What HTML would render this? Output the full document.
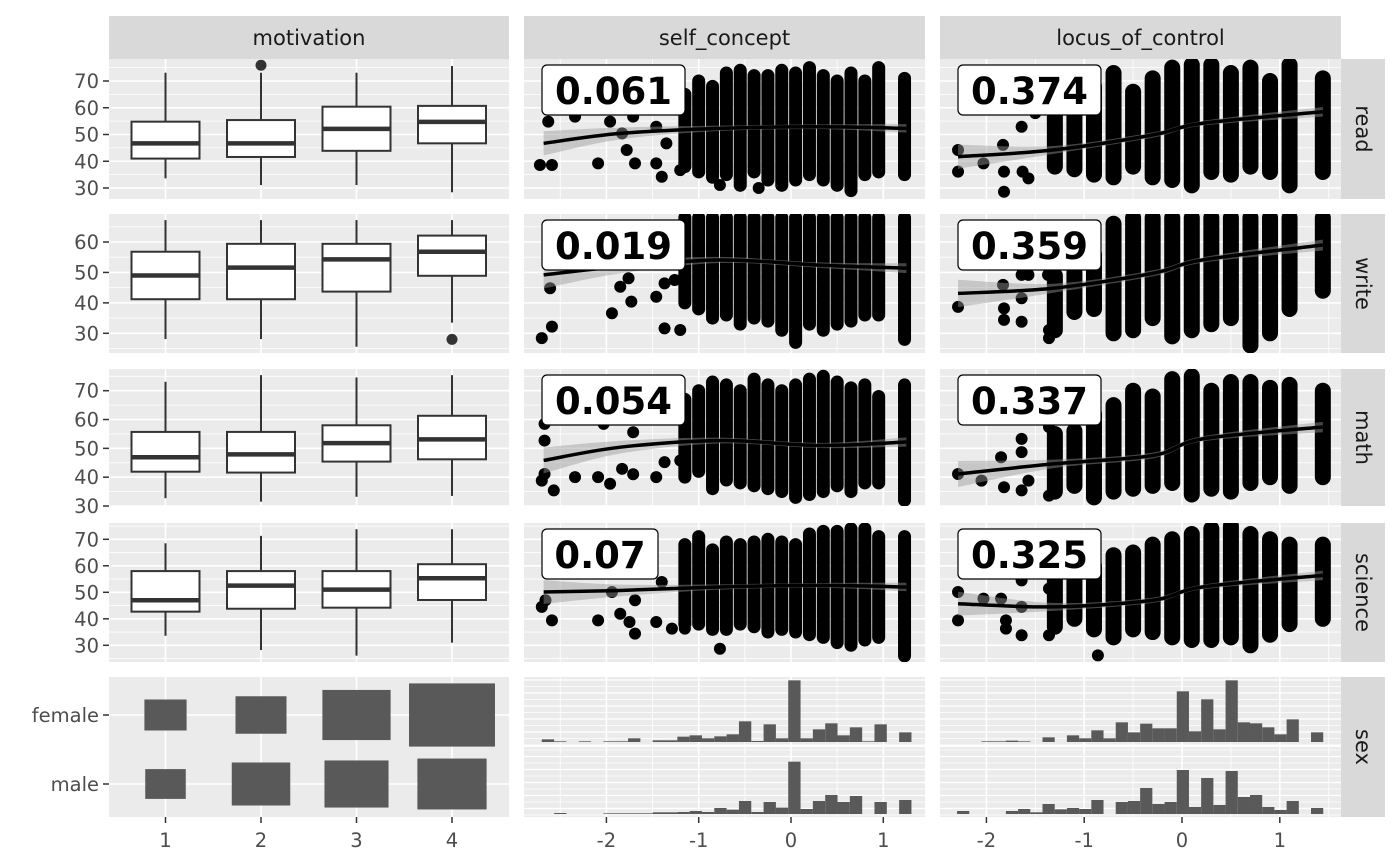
<!DOCTYPE html>
<html><head><meta charset="utf-8">
<style>
html,body{margin:0;padding:0;background:#fff;}
svg{display:block;font-family:"DejaVu Sans","Liberation Sans",sans-serif;}
</style></head>
<body>
<svg id="chart" width="1400" height="866" viewBox="0 0 1400 866" xmlns="http://www.w3.org/2000/svg"></svg>
<script>
// ---------- data ----------
const rowVars = ['read','write','math','science'];
const colVars = ['motivation','self_concept','locus_of_control'];
const corrSelf = ['0.061','0.019','0.054','0.07'];
const corrLocus = ['0.374','0.359','0.337','0.325'];
const boxRead = [[33.6,41,46.7,54.8,73.1],[31.1,41.6,46.7,55.4,73.1],[31.1,43.9,52.1,60.4,73.1],[28.4,46.7,54.7,60.7,75.6]];
const boxWrite = [[28.1,41.2,49,56.8,67.2],[28.1,41.2,51.6,59.4,67.2],[25.6,43.7,54.3,59.4,67.2],[33.5,48.9,56.8,62.1,67.2]];
const boxMath = [[32.7,41.9,46.9,55.7,73.1],[31.5,41.6,47.9,55.7,75.4],[33.2,45.4,51.8,58,74.6],[33.5,46.2,53.1,61.3,75.4]];
const boxScience = [[33.6,42.7,47,58,68.5],[28.2,43.8,52.5,58,71.3],[26.1,44.2,51,58,73.8],[31,47.1,55.3,60.6,73.8]];
const outlierRead = [[2,75.9]];
const outlierWrite = [[4,28]];
const femaleCounts = [13,19,34,54];
const maleCounts = [12,25,30,35];
const histSelfStart = -2.70, histSelfWidth = 0.1335;
const histSelfFemale = [8,2,0,2,0,2,2,11,0,5,5,16,20,11,17,23,62,3,53,11,185,11,38,56,20,44,2,53,0,29];
const histSelfMale = [0,3,0,0,0,2,2,2,2,5,5,6,9,6,18,13,39,6,36,19,157,15,39,57,36,54,0,36,0,42];
const histLocusStart = -2.30, histLocusWidth = 0.1248;
const histLocusFemale = [0,0,2,2,4,2,0,14,0,20,11,35,11,59,29,55,41,41,152,32,128,38,185,59,56,44,23,68,0,29];
const histLocusMale = [9,0,0,0,9,15,5,30,14,18,15,42,0,36,39,78,30,36,132,21,108,27,129,51,57,21,12,39,0,18];
const selfStackX = [-1.15,-1.0,-0.85,-0.7,-0.55,-0.4,-0.25,-0.1,0.05,0.2,0.35,0.5,0.65,0.8,0.95,1.23];
const selfReadLo = [38,36,34,35,31,36,33,31,33,35,33,31,29,35,36,35];
const selfReadHi = [65,70,68,73,74,72,72,74,73,75,72,70,73,70,75,71];
const selfWriteLo = [40,38,35,36,33,35,34,31,27,33,31,33,34,36,36,28];
const selfWriteHi = [68,68,68,68,68,68,68,68,68,68,68,68,68,68,68,68];
const selfMathLo = [40,42,36,39,38,37,36,35,33,34,35,37,35,38,38,32];
const selfMathHi = [67,70,73,72,70,74,72,70,72,74,75,73,71,72,68,72];
const selfSciLo = [38,38,36,36,38,37,35,36,35,34,33,31,30,32,33,26];
const selfSciHi = [68,71,66,69,68,69,70,69,68,72,73,73,74,74,71,71];
const selfReadPtsX = [-2.63,-2.72,-2.59,-2.34,-2.09,-1.96,-1.83,-1.78,-1.71,-1.69,-1.46,-1.46,-1.40,-1.35,-1.2,-0.77,-0.35];
const selfReadPtsY = [54.8,38.6,38.6,56.7,39.2,54.8,50.4,44.2,56.7,39.2,52.9,39.2,34.2,46.7,36.7,31.1,30];
const selfWritePtsX = [-2.61,-2.70,-2.59,-1.94,-1.85,-1.76,-1.73,-1.46,-1.37,-1.2,-1.37,-1.26];
const selfWritePtsY = [44.8,28.4,32.2,36.6,45.3,48.1,40.4,42.0,31.6,31.1,46.4,47.5];
const selfMathPtsX = [-2.67,-2.67,-2.67,-2.70,-2.57,-2.34,-2.09,-1.96,-1.83,-1.71,-1.71,-1.46,-1.37,-1.2,-2.03];
const selfMathPtsY = [58.5,52.7,41.1,38.8,35.4,40,40,37.7,42.9,41,55.6,40,45.2,45.8,58.5];
const selfSciPtsX = [-2.70,-2.59,-2.66,-2.09,-1.85,-1.75,-1.69,-1.69,-1.94,-1.40,-1.46,-1.29,-1.15,-0.77];
const selfSciPtsY = [44.5,39.4,47,39.4,41.9,38.8,34.4,47,50.1,53.9,38.8,36.3,36.3,28.7];
const locusStackX = [-1.3,-1.1,-0.9,-0.7,-0.5,-0.3,-0.1,0.1,0.3,0.5,0.7,0.9,1.1,1.44];
const locusReadLo = [38,37,35,34,38,34,33,31,36,35,38,36,31,36];
const locusReadHi = [63,62,68,73,66,71,75,76,76,73,75,70,76,71];
const locusWriteLo = [31,37,38,30,31,35,29,31,33,35,26,30,38,44];
const locusWriteHi = [49,50,56,66,68,68,68,68,68,68,68,68,68,68];
const locusMathLo = [35,37,33,35,36,37,38,34,36,35,38,40,37,40];
const locusMathHi = [55,56,62,65,70,68,74,75,70,73,73,71,72,70];
const locusSciLo = [37,40,36,33,36,35,33,32,32,33,30,34,38,40];
const locusSciHi = [57,58,60,64,65,68,70,72,74,75,72,70,68,68];
const locusReadPtsX = [-2.29,-2.29,-2.03,-1.83,-1.82,-1.82,-1.64,-1.63,-1.57,-1.5];
const locusReadPtsY = [44.2,36.1,39.2,46.1,28.6,36.1,52.9,36.1,33.6,58];
const locusWritePtsX = [-2.29,-1.83,-1.82,-1.82,-1.64,-1.64,-1.64,-1.57,-1.37,-1.36,-1.36];
const locusWritePtsY = [38.7,45.9,38.2,34.4,33.8,41.5,49.2,49.2,49.2,31.1,28.4];
const locusMathPtsX = [-2.29,-2.05,-1.85,-1.82,-1.64,-1.64,-1.64,-1.57,-1.36,-1.36];
const locusMathPtsY = [41.1,38.8,46.9,36.5,53.3,48.7,35.4,38.8,57.4,33.6];
const locusSciPtsX = [-2.29,-2.29,-2.03,-1.85,-1.80,-1.80,-1.64,-1.64,-1.64,-1.36,-1.36,-0.86];
const locusSciPtsY = [50.1,39.4,47.6,47.6,39.4,36.3,44.5,33.8,54.5,33.8,51.4,26.2];
const selfSmoothX = [-2.68,-1.85,-0.77,0.31,1.25];
const selfReadFit = [46.7,50.4,52.3,52.9,52.3];
const selfWriteFit = [49.2,51.9,54.1,52.4,51.4];
const selfMathFit = [45.8,50.4,52.7,51,52.2];
const selfSciFit = [50.1,50.7,52,52.6,52];
const selfSe = [4.5,2.2,1.0,0.9,1.6];
const locusSmoothX = [-2.29,-1.32,-0.30,0.21,1.44];
const locusReadFit = [41.7,44.2,49.8,54.2,58.5];
const locusWriteFit = [43.1,44.8,49.7,54.1,59.0];
const locusMathFit = [41.1,44.6,47.5,53.3,57.4];
const locusSciFit = [45.7,44.5,47,52,56.4];
const locusSe = [4.5,1.5,1.0,0.9,1.8];

// ---------- layout ----------
const svg = document.getElementById('chart');
const NS = 'http://www.w3.org/2000/svg';
function mk(tag, attrs, parent){const e=document.createElementNS(NS,tag);for(const k in attrs)e.setAttribute(k,attrs[k]);(parent||svg).appendChild(e);return e;}
const cols = [{x0:109,x1:509},{x0:524,x1:925},{x0:940,x1:1341}];
const rows = [{y0:59,y1:199},{y0:214,y1:353},{y0:369,y1:506},{y0:523,y1:662},{y0:677,y1:817}];
const yRef = [{a:70,ya:81,b:30,yb:188},{a:60,ya:242,b:30,yb:333.3},{a:70,ya:390.7,b:30,yb:506},{a:70,ya:539.3,b:30,yb:645.3}];
const yTicks = [[30,40,50,60,70],[30,40,50,60],[30,40,50,60,70],[30,40,50,60,70]];
function yS(r,v){const s=yRef[r];return s.ya+(v-s.a)*(s.yb-s.ya)/(s.b-s.a);}
function xCat(c){return 165.5+95.5*(c-1);}
function xSelf(d){return 791+92.3*d;}
function xLocus(d){return 1182+97.8*d;}
const xTicksNum = [-2,-1,0,1];
const TICK_FS = 19.5, STRIP_FS = 21;

for(let r=0;r<5;r++)for(let c=0;c<3;c++){
  const p=mk('rect',{x:cols[c].x0,y:rows[r].y0,width:cols[c].x1-cols[c].x0,height:rows[r].y1-rows[r].y0,fill:'#EBEBEB'});
  
  
}
function hline(y,c,w){mk('line',{x1:cols[c].x0,x2:cols[c].x1,y1:y,y2:y,stroke:'#fff','stroke-width':w});}
function vline(x,r,w){mk('line',{x1:x,x2:x,y1:rows[r].y0,y2:rows[r].y1,stroke:'#fff','stroke-width':w});}
for(let r=0;r<4;r++){
  for(let c=0;c<3;c++){
    const t=yTicks[r];
    for(let v=t[0]-5;v<=t[t.length-1]+5;v+=10){const y=yS(r,v);if(y>rows[r].y0&&y<rows[r].y1)hline(y,c,0.8);}
    t.forEach(v=>hline(yS(r,v),c,1.6));
    if(c===0){[1,2,3,4].forEach(k=>vline(xCat(k),r,1.6));}
    if(c===1){[-2.5,-1.5,-0.5,0.5].forEach(d=>{const x=xSelf(d);if(x>cols[1].x0)vline(x,r,0.8);});xTicksNum.forEach(d=>vline(xSelf(d),r,1.6));}
    if(c===2){[-1.5,-0.5,0.5,1.5].forEach(d=>vline(xLocus(d),r,0.8));xTicksNum.forEach(d=>vline(xLocus(d),r,1.6));}
  }
}
[715,784].forEach(y=>hline(y,0,1.6));
[1,2,3,4].forEach(k=>vline(xCat(k),4,1.6));
for(let c=1;c<3;c++){
  for(let y=680;y<745;y+=6.5)hline(y,c,y%13<6.5?1.2:0.7);
  for(let y=750;y<817;y+=6.5)hline(y,c,y%13<6.5?1.2:0.7);
  mk('rect',{x:cols[c].x0,y:744.5,width:cols[c].x1-cols[c].x0,height:2.5,fill:'#fff'});
  const f=c===1?xSelf:xLocus;
  xTicksNum.forEach(d=>vline(f(d),4,1.6));
  (c===1?[-2.5,-1.5,-0.5,0.5]:[-1.5,-0.5,0.5,1.5]).forEach(d=>{const x=f(d);if(x>cols[c].x0)vline(x,4,0.8);});
}

const boxes=[boxRead,boxWrite,boxMath,boxScience];
const outs=[outlierRead,outlierWrite,[],[]];
boxes.forEach((bx,r)=>{
  bx.forEach((s,i)=>{
    const x=xCat(i+1),hw=34;
    const g=mk('g',{});
    
    
    mk('line',{x1:x,x2:x,y1:yS(r,s[0]),y2:yS(r,s[4]),stroke:'#333','stroke-width':2},g);
    mk('rect',{x:x-hw,y:yS(r,s[3]),width:hw*2,height:yS(r,s[1])-yS(r,s[3]),fill:'#fff',stroke:'#333','stroke-width':2},g);
    mk('line',{x1:x-hw,x2:x+hw,y1:yS(r,s[2]),y2:yS(r,s[2]),stroke:'#333','stroke-width':4.5},g);
  });
  outs[r].forEach(o=>{
    const c=mk('circle',{cx:xCat(o[0]),cy:yS(r,o[1]),r:5.5,fill:'#333'});
    
    
  });
});

[[femaleCounts,715],[maleCounts,784]].forEach(([cnt,yc],j)=>{
  cnt.forEach((n,i)=>{
    const w=11.7*Math.sqrt(n),h=w*0.735;
    const e=mk('rect',{x:xCat(i+1)-w/2,y:yc-h/2,width:w,height:h,fill:'#595959'});
    
    
  });
});

function hist(vals,start,width,fx,base,name){
  vals.forEach((v,i)=>{
    if(v<=0)return;
    const xa=fx(start+i*width),xb=fx(start+(i+1)*width),h=v/3;
    const e=mk('rect',{x:xa,y:base-h,width:xb-xa,height:h,fill:'#595959'});
    
    
  });
}
hist(histSelfFemale,histSelfStart,histSelfWidth,xSelf,742,'self-female');
hist(histSelfMale,histSelfStart,histSelfWidth,xSelf,814,'self-male');
hist(histLocusFemale,histLocusStart,histLocusWidth,xLocus,742,'locus-female');
hist(histLocusMale,histLocusStart,histLocusWidth,xLocus,814,'locus-male');

const selfSets=[[selfReadLo,selfReadHi,selfReadPtsX,selfReadPtsY,selfReadFit],[selfWriteLo,selfWriteHi,selfWritePtsX,selfWritePtsY,selfWriteFit],[selfMathLo,selfMathHi,selfMathPtsX,selfMathPtsY,selfMathFit],[selfSciLo,selfSciHi,selfSciPtsX,selfSciPtsY,selfSciFit]];
const locusSets=[[locusReadLo,locusReadHi,locusReadPtsX,locusReadPtsY,locusReadFit],[locusWriteLo,locusWriteHi,locusWritePtsX,locusWritePtsY,locusWriteFit],[locusMathLo,locusMathHi,locusMathPtsX,locusMathPtsY,locusMathFit],[locusSciLo,locusSciHi,locusSciPtsX,locusSciPtsY,locusSciFit]];
function smoothPath(pts){
  let d='M'+pts[0][0]+','+pts[0][1];
  for(let i=0;i<pts.length-1;i++){
    const p0=pts[Math.max(0,i-1)],p1=pts[i],p2=pts[i+1],p3=pts[Math.min(pts.length-1,i+2)];
    const c1=[p1[0]+(p2[0]-p0[0])/6,p1[1]+(p2[1]-p0[1])/6],c2=[p2[0]-(p3[0]-p1[0])/6,p2[1]-(p3[1]-p1[1])/6];
    d+=' C'+c1[0]+','+c1[1]+' '+c2[0]+','+c2[1]+' '+p2[0]+','+p2[1];
  }
  return d;
}
function scatter(r,c,set,stackX,fx,smX,se,label,sw){
  const [lo,hi,px,py,fit]=set;
  const g=mk('g',{});
  
  
  stackX.forEach((x,i)=>{
    mk('line',{x1:fx(x),x2:fx(x),y1:yS(r,lo[i]),y2:yS(r,hi[i]),stroke:'#000','stroke-width':sw,'stroke-linecap':'round'},g);
  });
  px.forEach((x,i)=>{mk('circle',{cx:fx(x),cy:yS(r,py[i]),r:6,fill:'#000'},g);});
  const up=smX.map((x,i)=>[fx(x),yS(r,fit[i]+se[i])]);
  const dn=smX.map((x,i)=>[fx(x),yS(r,fit[i]-se[i])]).reverse();
  const band=mk('path',{d:smoothPath(up)+' L'+smoothPath(dn).slice(1)+' Z',fill:'#999','fill-opacity':0.45});
  
  
  const ln=mk('path',{d:smoothPath(smX.map((x,i)=>[fx(x),yS(r,fit[i])])),fill:'none',stroke:'#000','stroke-width':3.5});
  
  
  const bx=c===1?542:958;
  const by=[65,220,375,529][r];
  const bw=label.length>4?143:116;
  const lb=mk('rect',{x:bx,y:by,width:bw,height:50,rx:5,fill:'#fff',stroke:'#000','stroke-width':1.2});
  
  
  const t=mk('text',{x:bx+bw/2,y:by+39,'text-anchor':'middle','font-size':37,'font-weight':'bold',fill:'#000'});
  t.textContent=label;
  
  
}
for(let r=0;r<4;r++){
  scatter(r,1,selfSets[r],selfStackX,xSelf,selfSmoothX,selfSe,corrSelf[r],13);
  scatter(r,2,locusSets[r],locusStackX,xLocus,locusSmoothX,locusSe,corrLocus[r],16);
}
[[0,0,109,866],[509,0,15,866],[925,0,15,866],[1341,0,59,866],[0,0,1400,59],[0,199,1400,15],[0,353,1400,16],[0,506,1400,17],[0,662,1400,15],[0,817,1400,49]].forEach(a=>mk('rect',{x:a[0],y:a[1],width:a[2],height:a[3],fill:'#fff'}));

colVars.forEach((v,c)=>{
  const s=mk('rect',{x:cols[c].x0,y:16,width:cols[c].x1-cols[c].x0,height:43,fill:'#D9D9D9'});
  
  
  const t=mk('text',{x:(cols[c].x0+cols[c].x1)/2,y:45,'text-anchor':'middle','font-size':STRIP_FS,fill:'#1A1A1A'});
  t.textContent=v;
  
  
});
rowVars.concat(['sex']).forEach((v,r)=>{
  const s=mk('rect',{x:1341,y:rows[r].y0,width:44,height:rows[r].y1-rows[r].y0,fill:'#D9D9D9'});
  
  
  const cy=(rows[r].y0+rows[r].y1)/2;
  const t=mk('text',{x:1363,y:cy,'text-anchor':'middle','dominant-baseline':'central','font-size':STRIP_FS,fill:'#1A1A1A',transform:'rotate(90 1363 '+cy+')'});
  t.textContent=v;
  
  
});

yTicks.forEach((ts,r)=>{
  ts.forEach(v=>{
    const y=yS(r,v);
    mk('line',{x1:103,x2:109,y1:y,y2:y,stroke:'#333','stroke-width':1.5});
    const t=mk('text',{x:99,y:y+7,'text-anchor':'end','font-size':TICK_FS,fill:'#4D4D4D'});
    t.textContent=v;
    
    
  });
});
[['female',715],['male',784]].forEach(([l,y])=>{
  mk('line',{x1:103,x2:109,y1:y,y2:y,stroke:'#333','stroke-width':1.5});
  const t=mk('text',{x:99,y:y+7,'text-anchor':'end','font-size':TICK_FS,fill:'#4D4D4D'});
  t.textContent=l;
  
  
});
function xt(x,l){
  mk('line',{x1:x,x2:x,y1:817,y2:823,stroke:'#333','stroke-width':1.5});
  const t=mk('text',{x:x,y:847,'text-anchor':'middle','font-size':TICK_FS,fill:'#4D4D4D'});
  t.textContent=l;
  
  
}
[1,2,3,4].forEach(k=>xt(xCat(k),k));
xTicksNum.forEach(d=>xt(xSelf(d),d));
xTicksNum.forEach(d=>xt(xLocus(d),d));
</script>
</body></html>
